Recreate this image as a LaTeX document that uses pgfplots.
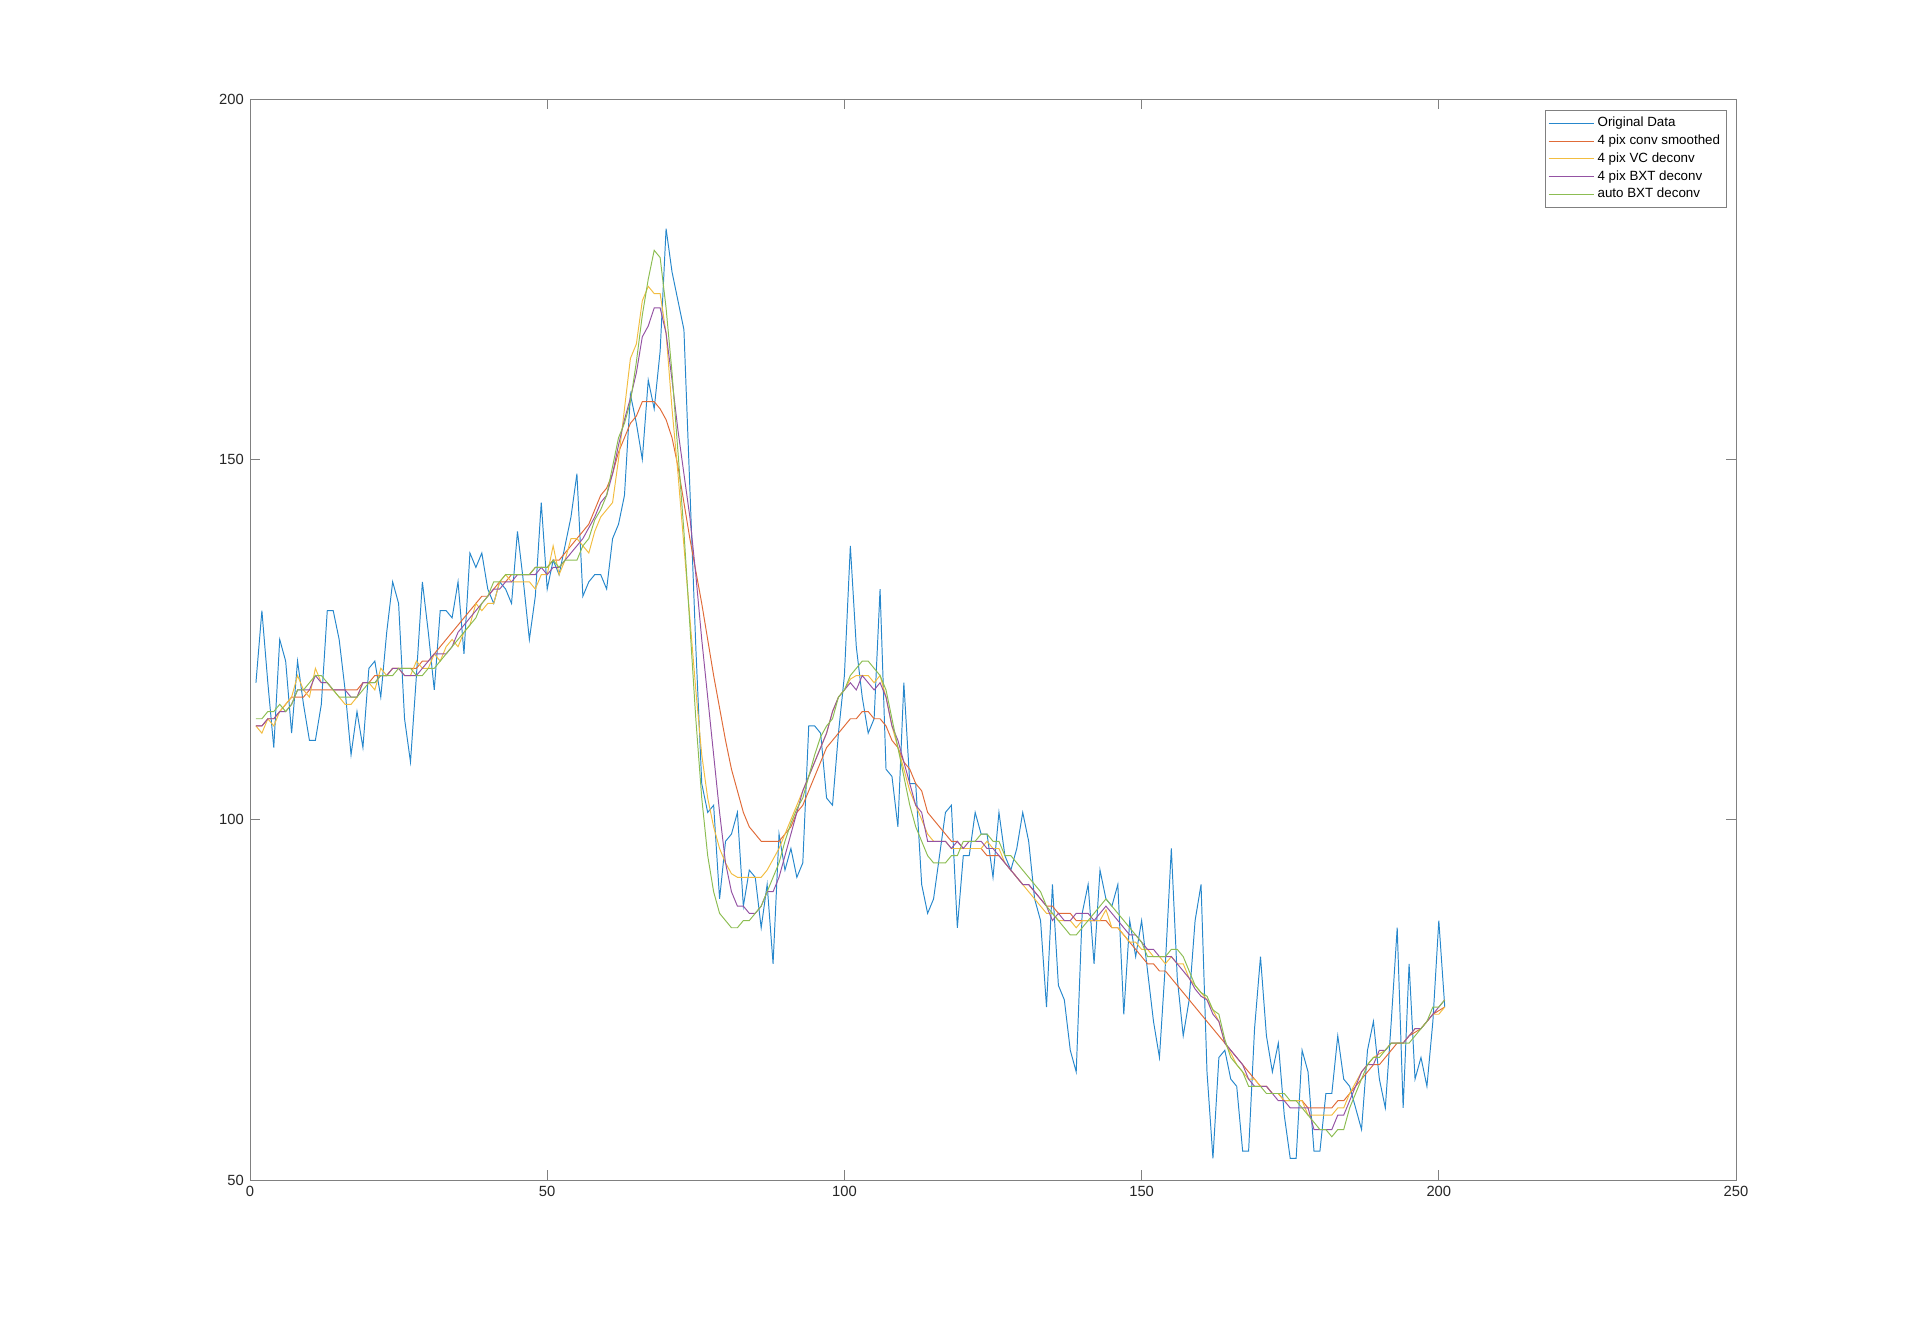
\documentclass[border=0pt]{standalone}
\usepackage{pgfplots}
\pgfplotsset{compat=1.18}
\usepackage{pgfplotstable}
\usepackage{fontspec}
\setmainfont{Liberation Sans}
\definecolor{mblue}{rgb}{0.15,0.53,0.80}
\definecolor{morange}{rgb}{0.88,0.42,0.22}
\definecolor{myellow}{rgb}{0.95,0.74,0.25}
\definecolor{mpurple}{rgb}{0.58,0.32,0.64}
\definecolor{mgreen}{rgb}{0.55,0.74,0.32}
\pgfplotstableread{
x b o y p g
1 119 113 113 113 114
2 129 113 112 113 114
3 119 114 114 114 115
4 110 114 113 114 115
5 125 115 115 115 116
6 122 116 116 115 115
7 112 117 117 116 116
8 122 117 120 118 118
9 116 117 118 118 118
10 111 118 117 118 119
11 111 118 121 120 120
12 116 118 119 119 120
13 129 118 119 119 119
14 129 118 118 118 118
15 125 118 117 118 117
16 118 118 116 118 117
17 109 118 116 117 117
18 115 118 117 117 117
19 110 119 119 119 118
20 121 119 119 119 119
21 122 120 118 119 119
22 117 120 121 120 120
23 126 120 120 120 120
24 133 121 121 121 120
25 130 121 121 121 121
26 114 121 120 120 121
27 108 121 120 120 121
28 120 121 122 120 120
29 133 122 121 121 120
30 126 122 121 122 121
31 118 123 123 123 121
32 129 124 122 123 122
33 129 125 124 123 123
34 128 126 125 124 124
35 133 127 124 126 125
36 123 128 126 127 126
37 137 129 127 128 127
38 135 130 130 129 128
39 137 131 129 130 130
40 132 131 130 131 131
41 130 132 130 132 133
42 133 133 133 132 133
43 132 133 134 133 134
44 130 134 133 133 134
45 140 134 133 134 134
46 133 134 133 134 134
47 125 134 133 134 134
48 131 135 132 134 135
49 144 135 134 135 135
50 132 135 134 134 135
51 136 136 138 135 136
52 134 136 134 135 135
53 138 137 136 136 136
54 142 138 139 137 136
55 148 139 139 138 136
56 131 140 138 139 138
57 133 141 137 140.5 139
58 134 143 140 142 141.6
59 134 145 142 144 143
60 132 146 143 145 145
61 139 148 144 148 149
62 141 151 150 152 153
63 145 153 157 155.5 155
64 159 155 164 158.5 158
65 155 156 166 162 163.5
66 150 158 172 167 170
67 161 158 174 168.5 175
68 157 158 173 171 179
69 165 157 173 171 178
70 182 155.5 167.5 167.5 171
71 176 153 157 161 162
72 172 149 148 154 151
73 168 144 138 148 140
74 146 139 128 142 127
75 124 134.5 118 134 114
76 105 130 109 125 103
77 101 125 103 117 95
78 102 120 99 109 90
79 89 115.5 96 101 87
80 97 111 94 94 86
81 98 107 92.5 90 85
82 101 104 92 88 85
83 88 101 92 88 86
84 93 99 92 87 86
85 92 98 92 87 87
86 85 97 92 88 88
87 91 97 93 90 90
88 80 97 94.5 90 92
89 98 97 96 92 94
90 93 98 98 95 97
91 96 99 100 98 99.5
92 92 101 102 101 101.5
93 94 102 104 104 103
94 113 104 106 106 106
95 113 106 108 108 109
96 112 108 110 110 111.5
97 103 110 112 112 113
98 102 111 115 115 114
99 112 112 117 117 117
100 120 113 118 118 118
101 138 114 119.5 119 120
102 124 114 120 118 121
103 117 115 120 120 122
104 112 115 120 119 122
105 114 114 119 118 121
106 132 114 120 119 120
107 107 113 117 117 118
108 106 111 113 113 114
109 99 110 110 111 110
110 119 108 107 108 106
111 105 107 104 105 102
112 105 105 102 102 99
113 91 104 100 101 97
114 87 101 98 97 95
115 89 100 97 97 94
116 95 99 97 97 94
117 101 98 97 97 94
118 102 97 96 96 95
119 85 97 96 97 95
120 95 96 96 96 97
121 95 96 96 97 97
122 101 96 96 97 97
123 98 96 96 97 98
124 98 95 97 96 98
125 92 95 96 96 97
126 101 95 96 95 97
127 95 94 94 94 95
128 93 93 93 93 95
129 96 92 92 92 94
130 101 91 91 91 93
131 97 91 90 91 92
132 89 90 89 90 91
133 86 89 88 89 90
134 74 88 87 88 88
135 91 88 87 86 87
136 77 87 86 87 86
137 75 87 86 86 85
138 68 87 86 86 84
139 65 86 85 87 84
140 87 86 86 87 85
141 91 86 86 87 86
142 80 86 86 86 87
143 93 86 86 87 88
144 89 86 87.5 88 89
145 88 85 85 87 88
146 91 85 85 86 87
147 73 84 84 85 86
148 86 83 83 84 85
149 81 82 83 84 84
150 86 81 82 83 83
151 79 80 82 82 81
152 72 80 81 82 81
153 67 79 81 81 81
154 80 79 80 81 81
155 96 78 81 81 82
156 78 77 80 80 82
157 70 76 80 79 81
158 75 75 78 78 79
159 86 74 77 76.5 77
160 91 73 76 75.5 76
161 65 72 75 75 75.5
162 53 71 73.6 73 73.6
163 67 70 72 72 73
164 68 69 69 69 69.5
165 64 68 67.6 68 67
166 63 67 66 67 66
167 54 66 65 66 65
168 54 65 64 64 63
169 71 64 64 63 63
170 81 63 63 63 63
171 70 63 63 63 62
172 65 62 62 62 62
173 69 62 62 61 62
174 59 61 61 61 62
175 53 61 61 60 61
176 53 61 61 60 61
177 68 61 61 60 60
178 65 60 59 60 59
179 54 60 59 57 58
180 54 60 59 57 57
181 62 60 59 57 57
182 62 60 59 57 56
183 70 61 60 59 57
184 64 61 60 59 57
185 63 62 62 61 60
186 60 63 63.5 63 62
187 57 64 65 65 64
188 68 65 66 66 66
189 72 66 67 66 67
190 64 66 67.5 68 67
191 60 67 68 68 68
192 72 68 69 69 69
193 85 69 69 69 69
194 60 69 69 69 69
195 80 70 70 70 69
196 64 70.5 71 71 70
197 67 71 71 71 71
198 63 72 72 72 72
199 72 73 73 73 74
200 86 73.5 73 74 74
201 74 74 74 75 75
}\data
\begin{document}
\begin{tikzpicture}
\begin{axis}[
  scale only axis, width=297.2mm, height=216.2mm,
  xmin=0, xmax=250, ymin=50, ymax=200,
  xtick={0,50,100,150,200,250}, ytick={50,100,150,200},
  tick align=inside, major tick length=2mm,
  axis line style={black!50, line width=0.5pt},
  every tick/.style={black!50, line width=0.5pt},
  tick label style={font=\fontsize{8.4}{10}\selectfont, text=black!85},
  /pgf/number format/assume math mode=true,
  legend cell align=left,
  legend style={at={(1,1)}, anchor=north east, xshift=-1.8mm, yshift=-2.2mm,
    draw=black!50, line width=0.45pt, fill=white,
    font=\fontsize{7.6}{9}\selectfont, row sep=0pt, inner xsep=0.6mm, inner ysep=0.8mm,
    nodes={inner ysep=0.9pt, text height=6.2pt, text depth=2.1pt}},
  legend image code/.code={\draw[#1] (0mm,0mm) -- (9mm,0mm);},
  every axis plot/.append style={line width=0.55pt},
]
\addplot[mblue] table[x=x, y=b] {\data};
\addlegendentry{Original Data}
\addplot[morange] table[x=x, y=o] {\data};
\addlegendentry{4 pix conv smoothed}
\addplot[myellow] table[x=x, y=y] {\data};
\addlegendentry{4 pix VC deconv}
\addplot[mpurple] table[x=x, y=p] {\data};
\addlegendentry{4 pix BXT deconv}
\addplot[mgreen] table[x=x, y=g] {\data};
\addlegendentry{auto BXT deconv}
\end{axis}
\path ([xshift=-50mm,yshift=-29.4mm]current axis.south west) rectangle ([xshift=36.8mm,yshift=19.8mm]current axis.north east);
\end{tikzpicture}
\end{document}
